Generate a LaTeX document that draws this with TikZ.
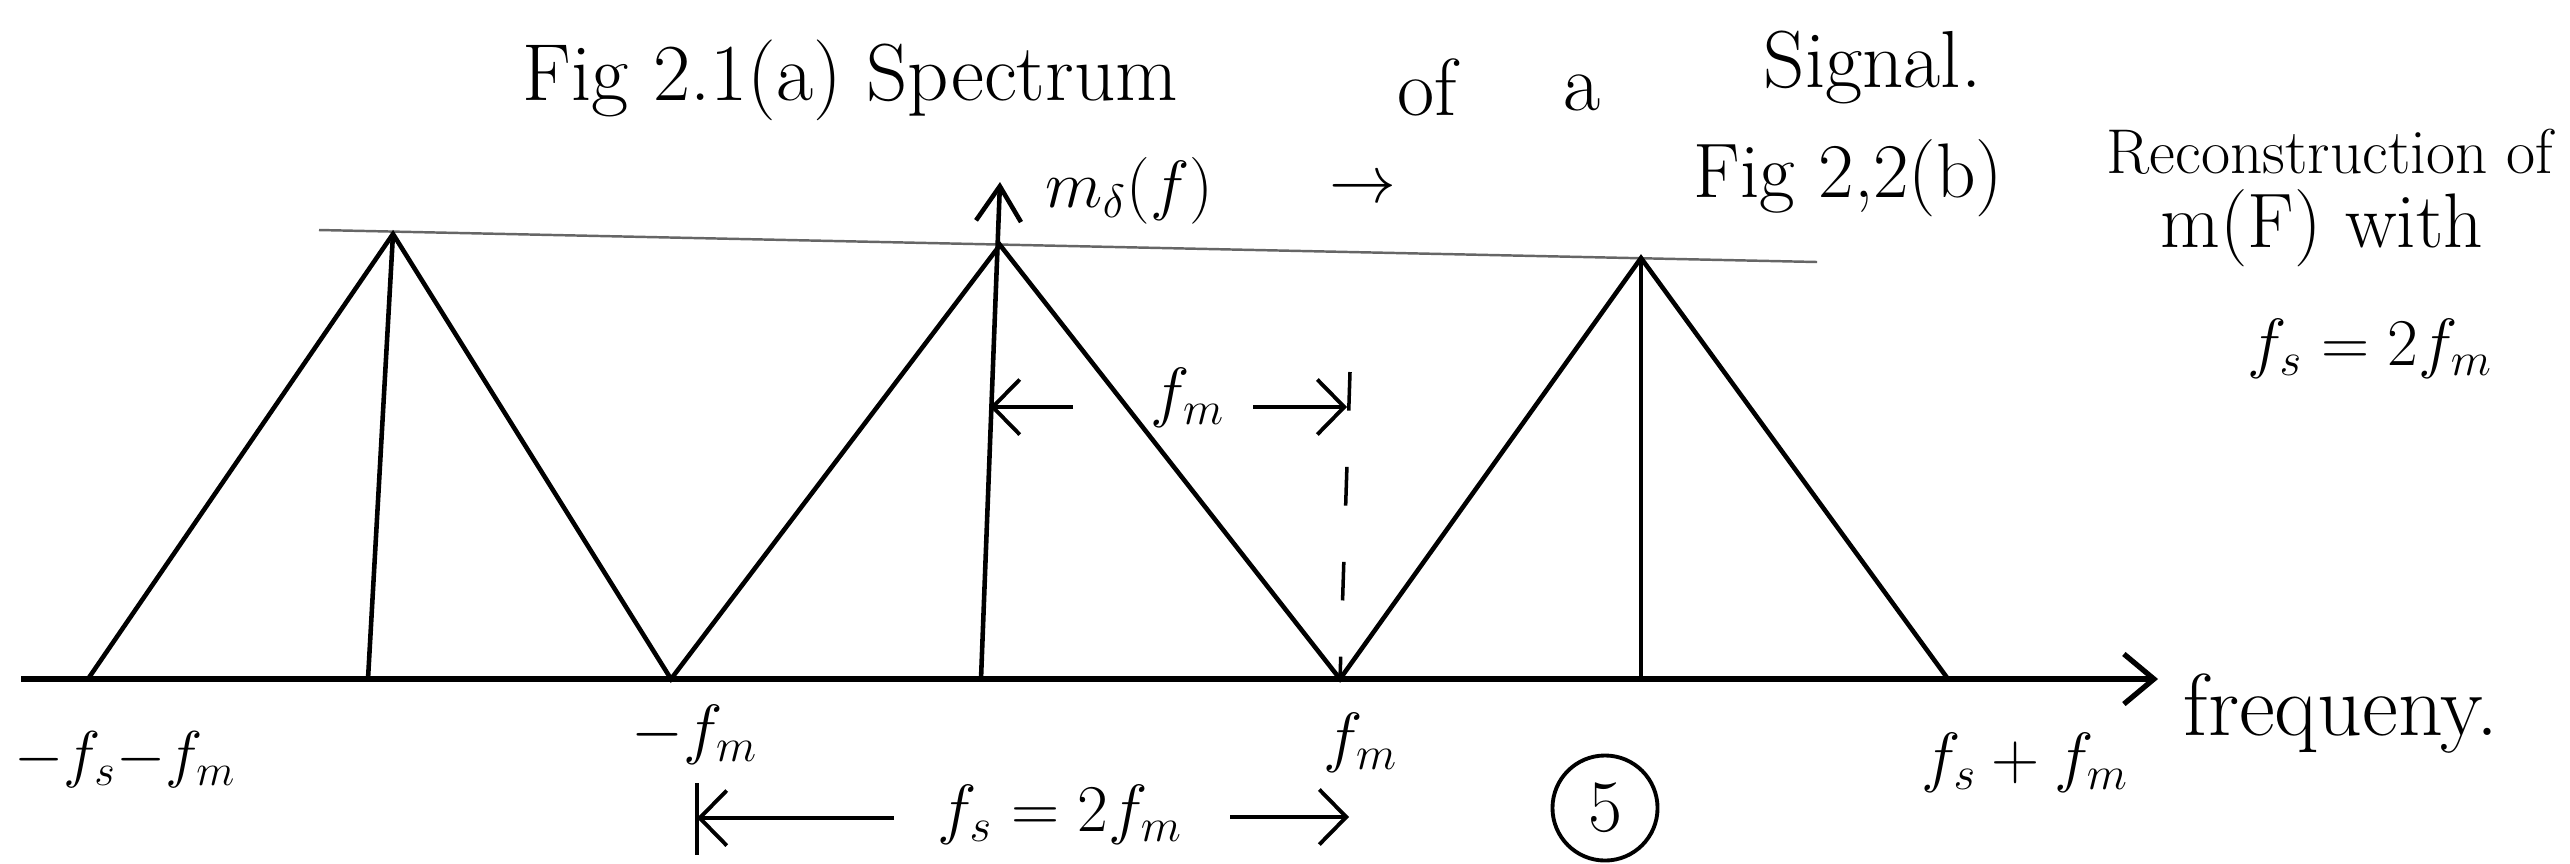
\RequirePackage{fix-cm}
\documentclass[tikz,border=0pt]{standalone}
\usepackage{fontspec}
\usepackage{amsmath}
\usetikzlibrary{arrows.meta, positioning}
\tikzset{
  spec/.style={line width=1.3pt, line join=miter},
  axisline/.style={line width=1.5pt, -{Straight Barb[length=3mm,width=5mm]}},
  guide/.style={line width=0.7pt, black!60},
  dimarrow/.style={line width=1.1pt, -{Straight Barb[length=2.7mm,width=5.5mm]}},
  cutline/.style={line width=1pt, dash pattern=on 11pt off 16pt},
  hand/.style={font=\fontsize{23}{27}\selectfont, inner sep=0pt},
  note/.style={font=\fontsize{18}{22}\selectfont, inner sep=0pt},
  lbl/.style={font=\fontsize{19}{23}\selectfont, inner sep=0pt}
}

\begin{document}
\begin{tikzpicture}[x=0.01cm, y=-0.01cm]
  \useasboundingbox (0,0) rectangle (2570,863);
  % frequency axis
  \coordinate (O) at (21,679);
  \coordinate (E) at (2158,679);
  % feet and peaks of the three spectra
  \coordinate (b0) at (88,679);
  \coordinate (b1) at (671,679);
  \coordinate (b2) at (1340,679);
  \coordinate (b3) at (1948,679);
  \coordinate (p1) at (393,234);
  \coordinate (p2) at (1000,245);
  \coordinate (p3) at (1641,258);
  \coordinate (v1) at (368,679);
  \coordinate (v2) at (981,679);
  \coordinate (v3) at (1641,679);
  \coordinate (top) at (1000,182);
  % level line through the peaks
  \coordinate (g0) at (319,230);
  \coordinate (g1) at (1817,262);
  \draw[guide] (g0) -- (g1);
  \draw[axisline] (O) -- (E);
  \draw[spec] (b0) -- (p1) -- (b1) -- (p2) -- (b2) -- (p3) -- (b3);
  \foreach \v/\p in {v1/p1, v3/p3} \draw[spec] (\v) -- (\p);
  \draw[spec, -{Straight Barb[length=3.5mm,width=4.5mm]}] (v2) -- (top);
  % fm spacing
  \coordinate (cut) at (1350,372);
  \draw[cutline] (cut) -- (b2);
  \coordinate (fml) at (990,407);
  \coordinate (fmr) at (1347,407);
  \coordinate (fma) at (1073,407);
  \coordinate (fmb) at (1253,407);
  \node[lbl] (fmlab) at (1188,398) {$f_m$};
  \draw[dimarrow] (fma) -- (fml);
  \draw[dimarrow] (fmb) -- (fmr);
  % fs spacing
  \coordinate (bar) at (697,818);
  \coordinate (fsa) at (894,818);
  \coordinate (fsb) at (1230,817);
  \coordinate (fsr) at (1349,817);
  \draw[line width=1.1pt] (697,783) -- (697,855);
  \draw[dimarrow] (fsa) -- (bar);
  \draw[dimarrow] (fsb) -- (fsr);
  \node[lbl] (fslab) at (1060,815) {$f_s = 2f_m$};
  \node[draw, circle, line width=1.1pt, minimum size=1.05cm, inner sep=0pt,
        font=\fontsize{21}{25}\selectfont] (page) at (1605,808) {5};
  % axis labels
  \node[lbl, font=\fontsize{18}{22}\selectfont, anchor=west] (l0) at (14,760) {$-f_s{-}f_m$};
  \node[lbl] (l1) at (695,735) {$-f_m$};
  \node[lbl] (l2) at (1361,743) {$f_m$};
  \node[lbl] (l3) at (2025,763) {$f_s+f_m$};
  \node[hand, font=\fontsize{25}{29}\selectfont, anchor=base west] (freq) at (2183,735) {frequeny.};
  \node[lbl, anchor=base west] (ms) at (1045,207) {$m_\delta(f)$};
  \node[lbl] (go) at (1363,190) {$\rightarrow$};
  % captions
  \node[hand, anchor=base west] (title) at (522,100) {Fig 2.1(a) Spectrum};
  \node[hand, anchor=base west] (of) at (1397,115) {of};
  \node[hand, anchor=base west] (art) at (1563,110) {a};
  \node[hand, anchor=base west] (sig) at (1763,87) {Signal.};
  \node[hand, font=\fontsize{22}{26}\selectfont, anchor=base west] (fig2) at (1693,197) {Fig 2,2(b)};
  \node[note, anchor=base] (rec) at (2330,173) {Reconstruction of};
  \node[hand, font=\fontsize{22}{26}\selectfont, anchor=base] (with) at (2322,247) {m(F) with};
  \node[lbl, anchor=base] (cond) at (2370,365) {$f_s = 2f_m$};
\end{tikzpicture}
\end{document}
